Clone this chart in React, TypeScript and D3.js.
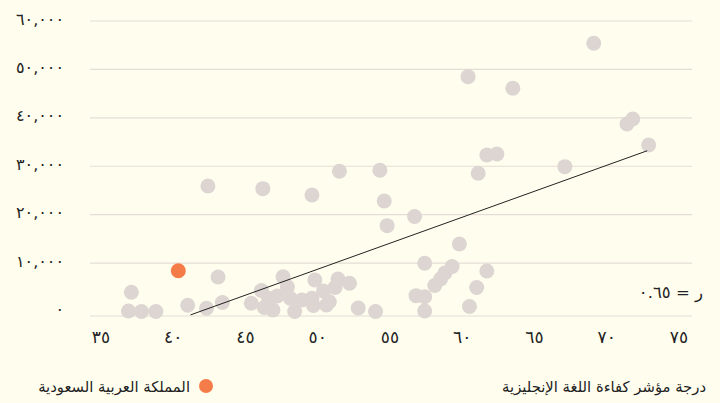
import * as d3 from "d3";

// EF English proficiency score vs GDP per capita
const scores = [
  36.9, 37.1, 37.8, 38.8, 41.0, 42.3, 42.4, 43.1, 43.4, 45.4,
  46.2, 46.1, 46.3, 46.9, 46.6, 47.2, 47.6, 47.9, 48.1, 48.4,
  48.9, 49.6, 49.7, 49.6, 49.8, 50.4, 50.6, 50.8, 51.4, 51.2,
  52.2, 51.5, 52.8, 54.0, 54.3, 54.6, 54.8, 56.7, 56.8, 57.4,
  57.4, 57.4, 58.1, 58.5, 58.8, 59.3, 59.8, 60.5, 61.0, 61.7,
  61.1, 61.7, 62.4, 60.4, 63.5, 67.1, 69.1, 71.4, 71.8, 72.9,
];
const gdp = [
  100, 3970, 0, 0, 1280, 660, 25930, 7130, 1860, 1700,
  25370, 4340, 830, 300, 2730, 3200, 7190, 5120, 2730, 0,
  2380, 2730, 1240, 24070, 6510, 4240, 1340, 2020, 6710, 4960,
  5830, 28960, 720, 0, 29170, 22830, 17730, 19630, 3270, 3060,
  100, 9960, 5370, 6710, 7950, 9300, 13950, 1030, 4960, 8370,
  28550, 32330, 32540, 48510, 46110, 29920, 55410, 38740, 39770, 34400,
];

const saudiScore = [40.35];
const saudiGdp = [8430];

const trendX = [41.2, 72.8];
const trendY = [-700, 33200];

const xTicks = [35, 40, 45, 50, 55, 60, 65, 70, 75];
const yTicks = [0, 10000, 20000, 30000, 40000, 50000, 60000];

const rLabel = "ر = ٠.٦٥";
const xTitle = "درجة مؤشر كفاءة اللغة الإنجليزية";
const legendLabel = "المملكة العربية السعودية";

const W = 720;
const H = 403;
const FONT = "'DejaVu Sans', sans-serif";

const arabicDigits = (s: string) => s.replace(/\d/g, (d) => "٠١٢٣٤٥٦٧٨٩"[+d]);

export default function App() {
  const x = d3.scaleLinear().domain([35, 75]).range([101, 679]);
  const y = d3.scaleLinear().domain([0, 60000]).range([311.5, 21]);
  const fmt = d3.format(",");

  const gridLeft = 90;
  const gridRight = 692;
  const baseline = y(0) + 4.5;

  const line = d3
    .line<number>()
    .x((d) => x(d))
    .y((_, i) => y(trendY[i]));

  return (
    <div style={{ position: "fixed", left: 0, top: 0 }}>
      <svg width={W} height={H} style={{ display: "block", background: "#fffeee" }}>
        {/* gridlines */}
        {yTicks.map((t) => (
          <line
            key={t}
            x1={gridLeft}
            x2={gridRight}
            y1={t === 0 ? baseline : y(t)}
            y2={t === 0 ? baseline : y(t)}
            stroke="#e6dcd6"
            strokeWidth={1.2}
          />
        ))}
        {/* y labels */}
        {yTicks.map((t) => (
          <text
            key={"yl" + t}
            x={64}
            y={y(t) - 2}
            dy="0.35em"
            textAnchor="end"
            fontFamily={FONT}
            fontSize={16}
            fill="#222"
          >
            {arabicDigits(fmt(t))}
          </text>
        ))}
        {/* x labels */}
        {xTicks.map((t) => (
          <text
            key={"xl" + t}
            x={x(t)}
            y={337}
            dy="0.35em"
            textAnchor="middle"
            fontFamily={FONT}
            fontSize={17}
            fill="#222"
          >
            {arabicDigits(String(t))}
          </text>
        ))}
        {/* dots */}
        {scores.map((s, i) => (
          <circle key={"d" + i} cx={x(s)} cy={y(gdp[i])} r={7.5} fill="#dcd5d2" />
        ))}
        {saudiScore.map((s, i) => (
          <circle key={"s" + i} cx={x(s)} cy={y(saudiGdp[i])} r={7.5} fill="#f47c48" />
        ))}
        {/* trend line */}
        <path d={line(trendX) ?? ""} fill="none" stroke="#222" strokeWidth={1} />
        {/* correlation */}
        <text x={703} y={292} dy="0.35em" textAnchor="end" fontFamily={FONT} fontSize={16.5} fill="#222">
          {rLabel}
        </text>
        {/* axis title */}
        <text x={706} y={387} dy="0.35em" textAnchor="end" fontFamily={FONT} fontSize={14.8} fill="#222">
          {xTitle}
        </text>
        {/* legend */}
        <circle cx={206} cy={386} r={7} fill="#f47c48" />
        <text x={190} y={387} dy="0.35em" textAnchor="end" fontFamily={FONT} fontSize={14.8} fill="#222">
          {legendLabel}
        </text>
      </svg>
    </div>
  );
}
